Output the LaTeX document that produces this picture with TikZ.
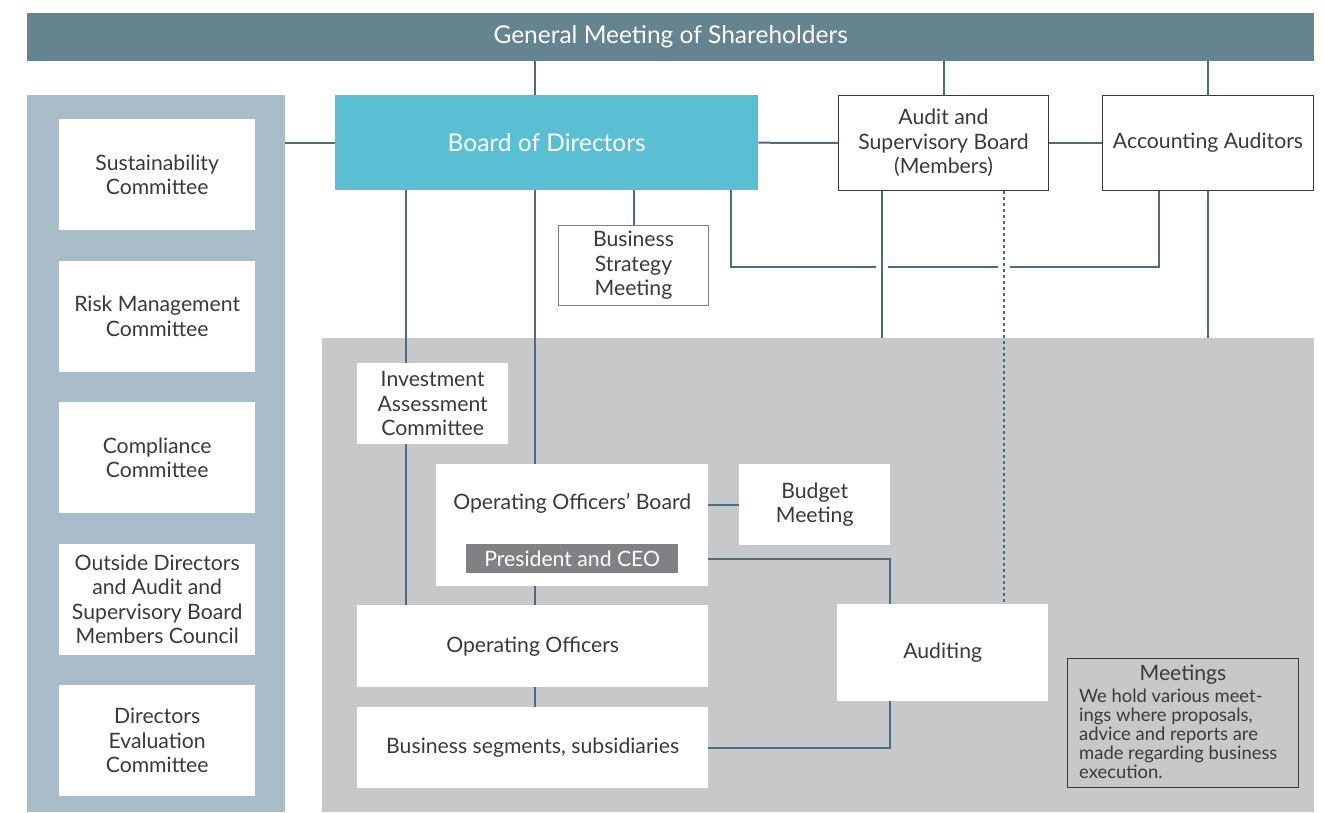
\documentclass[tikz,border=0pt]{standalone}
\usepackage{fontspec}
\setmainfont{Lato}
\usetikzlibrary{calc}
\usetikzlibrary{positioning}
\usetikzlibrary{backgrounds}
\definecolor{banner}{RGB}{100,132,143}
\definecolor{panel}{RGB}{168,189,199}
\definecolor{board}{RGB}{90,191,211}
\definecolor{area}{RGB}{199,200,202}
\definecolor{wire}{RGB}{74,110,128}
\definecolor{ink}{RGB}{58,58,58}
\definecolor{ceo}{RGB}{127,129,132}

\begin{document}
\begin{tikzpicture}[x=1pt, y=-1pt,
    every node/.style={font=\fontsize{21.2}{24.5}\selectfont, text=ink, align=center, inner sep=0pt, anchor=north west},
    big/.style={font=\fontsize{24.5}{28}\selectfont, text=white},
    box/.style={fill=white},
    framed/.style={fill=white, draw=ink, line width=1pt},
    link/.style={draw=wire, line width=2pt},
    dotlink/.style={draw=wire, line width=2pt, dash pattern=on 3pt off 3pt},
    gap/.style={draw=white, line width=12pt}]
    \useasboundingbox (0,0) rectangle (1325,812);

    % top and left
    \node[big, fill=banner, minimum width=1287, minimum height=48] (gms) at (27,13) {General Meeting of Shareholders};
    \node[fill=panel, minimum width=258, minimum height=717] (panel) at (27,95) {};
    \coordinate (A) at (59,119);
    \foreach \name/\txt in {sust/{Sustainability\\Committee}, risk/{Risk Management\\Committee}, comp/{Compliance\\Committee}, outs/{Outside Directors\\and Audit and\\Supervisory Board\\Members Council}, eval/{Directors\\Evaluation\\Committee}}
    {
        \node[box, minimum width=196, minimum height=111] (\name) at (A) {\txt};
        \coordinate (A) at ($(A) + (0,141.5)$);
    }

    % board level
    \node[big, fill=board, minimum width=423, minimum height=95] (bod) at (335,95) {Board of Directors};
    \node[framed, minimum width=210, minimum height=95] (asb) at (838,95) {Audit and\\Supervisory Board\\(Members)};
    \node[framed, minimum width=211, minimum height=95] (acc) at (1102,95) {Accounting Auditors};
    \node[fill=white, draw=ceo, line width=1pt, minimum width=150, minimum height=80] (bsm) at (558,225) {Business\\Strategy\\Meeting};

    % execution
    \node[box, minimum width=151, minimum height=81] (inv) at (357,363) {Investment\\Assessment\\Committee};
    \node[box, minimum width=272, minimum height=122] (oob) at (436,464) {};
    \node[anchor=center] (oobtxt) at ($(oob.north) + (0,39)$) {Operating Officers’ Board};
    \node[fill=ceo, text=white, minimum width=212, minimum height=29] (pres) at (466,544) {President and CEO};
    \node[box, minimum width=151, minimum height=81] (bud) at (739,464) {Budget\\Meeting};
    \node[box, minimum width=211, minimum height=97] (aud) at (837,604) {Auditing};
    \node[box, minimum width=351, minimum height=82] (oo) at (357,605) {Operating Officers};
    \node[box, minimum width=351, minimum height=81] (bs) at (357,707) {Business segments, subsidiaries};

    % note
    \node[fill=area, draw=ink, line width=1pt, minimum width=231, minimum height=129] (note) at (1067,658) {};
    \node[anchor=north] (notetitle) at ($(note.north) + (0,7)$) {Meetings};
    \node[font=\fontsize{18.4}{19}\selectfont, align=left] (notetxt) at ($(note.north west) + (12,31)$) {We hold various meet-\\ings where proposals,\\advice and reports are\\made regarding business\\execution.};

    \begin{pgfonlayer}{background}
        \node[fill=area, minimum width=992, minimum height=474] (area) at (322,338) {};
        \draw[link] (panel.east |- bod.west) -- (bod.west);
        \draw[link] ([xshift=200pt]bod.north west) -- ([xshift=200pt]bod.north west |- gms.south);
        \draw[link] (asb.north) -- (asb.north |- gms.south);
        \draw[link] (acc.north) -- (acc.north |- gms.south);
        \draw[link] (bod.east) -- (asb.west);
        \draw[link] (asb.east) -- (acc.west);
        \draw[link] (bsm.north) -- (bsm.north |- bod.south);
        \draw[link] ([xshift=71pt]bod.south west) -- ([xshift=71pt]bod.south west |- oo.north);
        \draw[link] ([xshift=200pt]bod.south west) -- ([xshift=200pt]bod.south west |- oob.north);
        \draw[link] ([xshift=396pt]bod.south west) -- ++(0,77) -| ([xshift=57pt]acc.south west);
        % crossings
        \draw[gap] (882,262) -- (882,272);
        \draw[gap] (1004,262) -- (1004,272);
        \draw[link] ([xshift=44pt]asb.south west) -- ([xshift=44pt]asb.south west |- area.north);
        \draw[dotlink] ([xshift=166pt]asb.south west) -- ([xshift=166pt]asb.south west |- aud.north);
        \draw[link] (acc.south) -- (acc.south |- area.north);
        \draw[link] (bud.west) -- (bud.west -| oob.east);
        \draw[link] (pres.east) -| ([xshift=53pt]aud.north west);
        \draw[link] ([xshift=178pt]oo.north west) -- ([xshift=178pt]oo.north west |- oob.south);
        \draw[link] ([xshift=178pt]bs.north west) -- ([xshift=178pt]bs.north west |- oo.south);
        \draw[link] (bs.east) -| ([xshift=53pt]aud.south west);
    \end{pgfonlayer}
\end{tikzpicture}
\end{document}
